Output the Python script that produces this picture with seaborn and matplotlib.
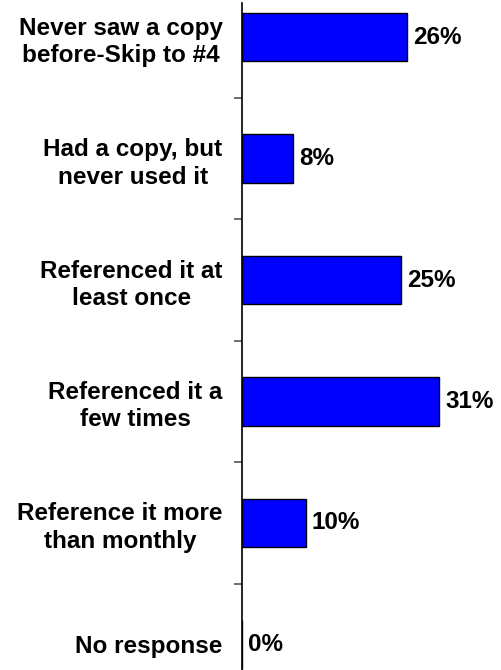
import pandas as pd
import seaborn as sns
import matplotlib.pyplot as plt
from matplotlib.ticker import FixedLocator

categories = ["Never saw a copy\nbefore-Skip to #4",
              "Had a copy, but\nnever used it",
              "Referenced it at\nleast once",
              "Referenced it a\nfew times",
              "Reference it more\nthan monthly",
              "No response"]
values = [26, 8, 25, 31, 10, 0]

df = pd.DataFrame({"answer": categories, "pct": values})

sns.set_style("white")
plt.rcParams["font.family"] = ["Liberation Sans", "DejaVu Sans"]
plt.rcParams["text.color"] = "black"
plt.rcParams["ytick.labelcolor"] = "black"

fig = plt.figure(figsize=(5.01, 6.70), dpi=100)
ax = fig.add_axes([242 / 501, 0.0, 254 / 501, 1 - 3 / 670])

sns.barplot(data=df, x="pct", y="answer", orient="h", color="#0000FF",
            saturation=1, width=0.4, edgecolor="black", linewidth=1, ax=ax)

for i, v in enumerate(values):
    ax.text(v + 1, i, f"{v}%", va="center", ha="left",
            fontsize=17.5, fontweight="bold", color="black")

ax.set_xlim(0, 40)
ax.set_ylim(5.21, -0.28)
ax.set_xlabel("")
ax.set_ylabel("")
ax.set_xticks([])

for s in ["top", "right", "bottom"]:
    ax.spines[s].set_visible(False)
ax.spines["left"].set_color("black")
ax.spines["left"].set_linewidth(1.2)

ax.tick_params(axis="y", which="major", length=0, pad=14)
for lab in ax.get_yticklabels():
    lab.set_fontsize(17.5)
    lab.set_fontweight("bold")
    lab.set_color("black")
    lab.set_multialignment("center")
    lab.set_linespacing(1.25)

ax.yaxis.set_minor_locator(FixedLocator([0.5, 1.5, 2.5, 3.5, 4.5]))
ax.tick_params(axis="y", which="minor", left=True, length=6,
               width=1.2, color="#555555")

fig.savefig("out.png", dpi=100)
